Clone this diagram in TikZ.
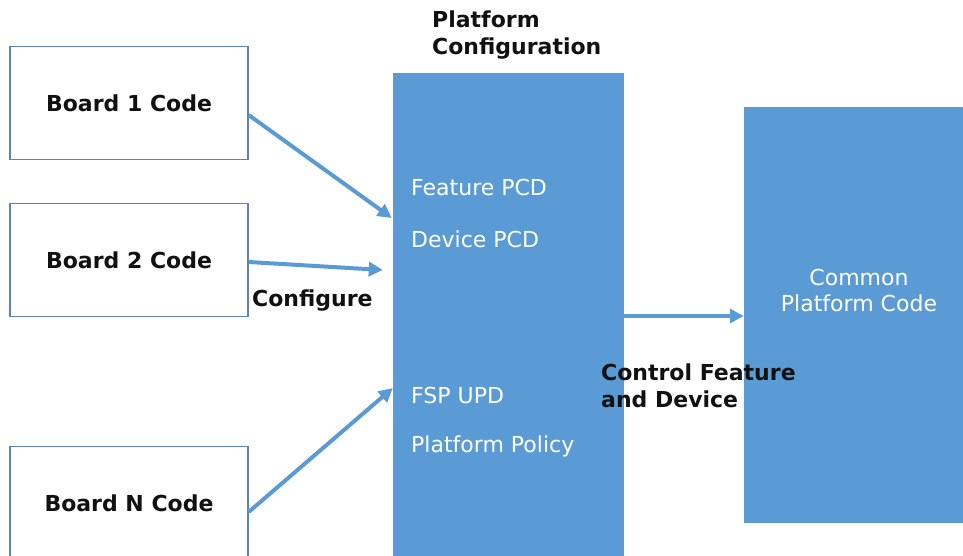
\documentclass[tikz,border=0pt]{standalone}
\usepackage{fontspec}
\setmainfont{DejaVu Sans}
\usetikzlibrary{arrows.meta, positioning, calc}
\definecolor{pcblue}{HTML}{5B9BD5}
\definecolor{bdedge}{HTML}{5F82B4}
\definecolor{txtdark}{HTML}{111111}

\tikzset{
  board/.style={draw=bdedge, line width=1.3pt, fill=white, minimum width=238pt,
                minimum height=113pt, font=\fontsize{22}{26}\selectfont\bfseries, text=txtdark},
  block/.style={fill=pcblue, draw=none, inner sep=0pt},
  intext/.style={font=\fontsize{22}{26}\selectfont, text=white, anchor=west, inner sep=0pt},
  caption/.style={font=\fontsize{22}{26.5}\selectfont\bfseries, text=txtdark, align=left, anchor=west, inner sep=0pt},
  flow/.style={-{Triangle[length=14pt, width=14pt]}, pcblue, line width=4pt}
}

\begin{document}
\begin{tikzpicture}[x=1pt, y=-1pt]

% Page frame
\useasboundingbox (0,0) rectangle (963,556);

% =========== Board code boxes ===========
\node[board] (b1) at (129,103) {Board 1 Code};
\node[board] (b2) at (129,260) {Board 2 Code};
\node[board] (bn) at (129,503) {Board N Code};

% =========== Platform configuration ===========
\node[block, minimum width=231pt, minimum height=500pt] (cfg) at (508.5,323) {};
\node[caption] (cfgtitle) at (432,35) {Platform\\Configuration};
\node[intext] (feat) at (411,187) {Feature PCD};
\node[intext] (dev) at (411,239) {Device PCD};
\node[intext] (fsp) at (411,395) {FSP UPD};
\node[intext] (policy) at (411,446) {Platform Policy};

% =========== Common platform code ===========
\node[block, minimum width=230pt, minimum height=416pt] (common) at (859,315) {};
\node[font=\fontsize{22}{26}\selectfont, text=white, align=center] (commontxt) at (859,290) {Common\\Platform Code};

% Arrows from boards
\draw[flow] ([yshift=-12pt]b1.east) -- ([xshift=-1pt, yshift=105pt]cfg.west);
\draw[flow] ([yshift=-2pt]b2.east) -- ([xshift=-10pt, yshift=53pt]cfg.west);
\draw[flow] ([yshift=-9pt]bn.east) -- ([yshift=-65pt]cfg.west);
\node[caption] (conf) at (252,301) {Configure};

% Arrow to common code
\draw[flow] ([yshift=7pt]cfg.east) -- ([yshift=-1pt]common.west);
\node[caption] (ctrl) at (601,386) {Control Feature\\and Device};

\end{tikzpicture}
\end{document}
